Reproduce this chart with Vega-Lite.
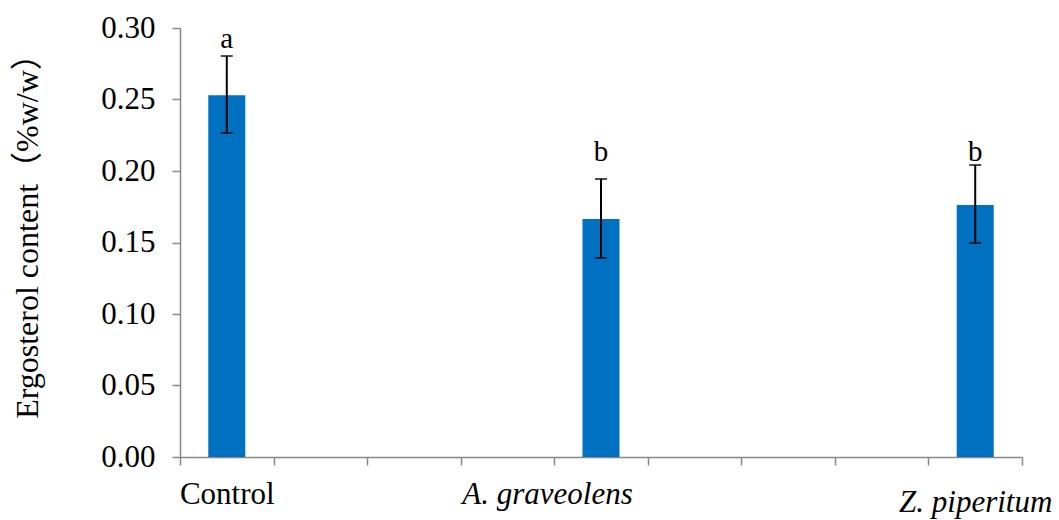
{
  "$schema": "https://vega.github.io/schema/vega-lite/v6.json",
  "width": 842,
  "height": 429,
  "autosize": {"type": "none"},
  "padding": {"left": 180, "top": 28, "right": 37, "bottom": 63},
  "background": "white",
  "config": {"view": {"stroke": null}, "font": "Liberation Serif"},
  "data": {"values": [
    {"treatment": "Control", "slot": 0.5, "mean": 0.253, "lower": 0.2266, "upper": 0.2804, "sig": "a", "sig_y": 0.286},
    {"treatment": "A. graveolens", "slot": 4.5, "mean": 0.1664, "lower": 0.1392, "upper": 0.1944, "sig": "b", "sig_y": 0.207},
    {"treatment": "Z. piperitum", "slot": 8.5, "mean": 0.1762, "lower": 0.1497, "upper": 0.2042, "sig": "b", "sig_y": 0.207}
  ]},
  "resolve": {"axis": {"x": "independent"}},
  "layer": [
    {
      "mark": {"type": "bar", "width": 37, "color": "#0070C0"},
      "encoding": {
        "x": {"field": "slot", "type": "quantitative",
          "scale": {"domain": [0, 9], "nice": false, "zero": false, "padding": 0},
          "axis": {"orient": "bottom", "values": [0,1,2,3,4,5,6,7,8,9], "labels": false, "title": null, "grid": false,
            "tickSize": 8, "tickColor": "#888888", "tickWidth": 1.5, "domainColor": "#888888", "domainWidth": 1.5}},
        "y": {"field": "mean", "type": "quantitative", "title": "Ergosterol content（%w/w）",
          "scale": {"domain": [0, 0.3], "nice": false},
          "axis": {"values": [0, 0.05, 0.1, 0.15, 0.2, 0.25, 0.3], "format": ".2f", "grid": false,
            "tickSize": 8, "tickColor": "#888888", "tickWidth": 1.5, "domainColor": "#888888", "domainWidth": 1.5,
            "labelFont": "Liberation Serif", "labelFontSize": 31, "labelColor": "black", "labelPadding": 17,
            "titleFont": "Liberation Serif, Noto Sans CJK SC", "titleFontSize": 32,
            "titleFontWeight": "normal", "titleColor": "black", "titlePadding": 56, "titleY": 200}}
      }
    },
    {
      "mark": {"type": "errorbar", "ticks": {"size": 12, "thickness": 2, "color": "black"}, "rule": {"strokeWidth": 2, "color": "black"}},
      "encoding": {
        "x": {"field": "slot", "type": "quantitative", "axis": null},
        "y": {"field": "lower", "type": "quantitative", "title": "Ergosterol content（%w/w）"},
        "y2": {"field": "upper"}
      }
    },
    {
      "mark": {"type": "text", "font": "Liberation Serif", "fontSize": 29, "baseline": "alphabetic", "color": "black"},
      "encoding": {
        "x": {"field": "slot", "type": "quantitative",
          "axis": {"orient": "bottom", "values": [0.5, 4.5, 8.5], "ticks": false, "domain": false, "grid": false, "title": null,
            "labelExpr": "datum.value == 0.5 ? 'Control' : datum.value == 4.5 ? 'A. graveolens' : 'Z. piperitum'",
            "labelFont": "Liberation Serif", "labelFontSize": 31, "labelColor": "black", "labelBaseline": "alphabetic",
            "labelFontStyle": {"condition": {"test": "datum.value > 1", "value": "italic"}, "value": "normal"},
            "labelOffset": {"condition": {"test": "datum.value == 4.5", "value": -54}, "value": 0},
            "labelPadding": {"condition": {"test": "datum.value == 8.5", "value": 54}, "value": 46},
            "labelOverlap": false, "labelFlush": false, "labelBound": false}},
        "y": {"field": "sig_y", "type": "quantitative", "title": "Ergosterol content（%w/w）"},
        "text": {"field": "sig"}
      }
    }
  ]
}
